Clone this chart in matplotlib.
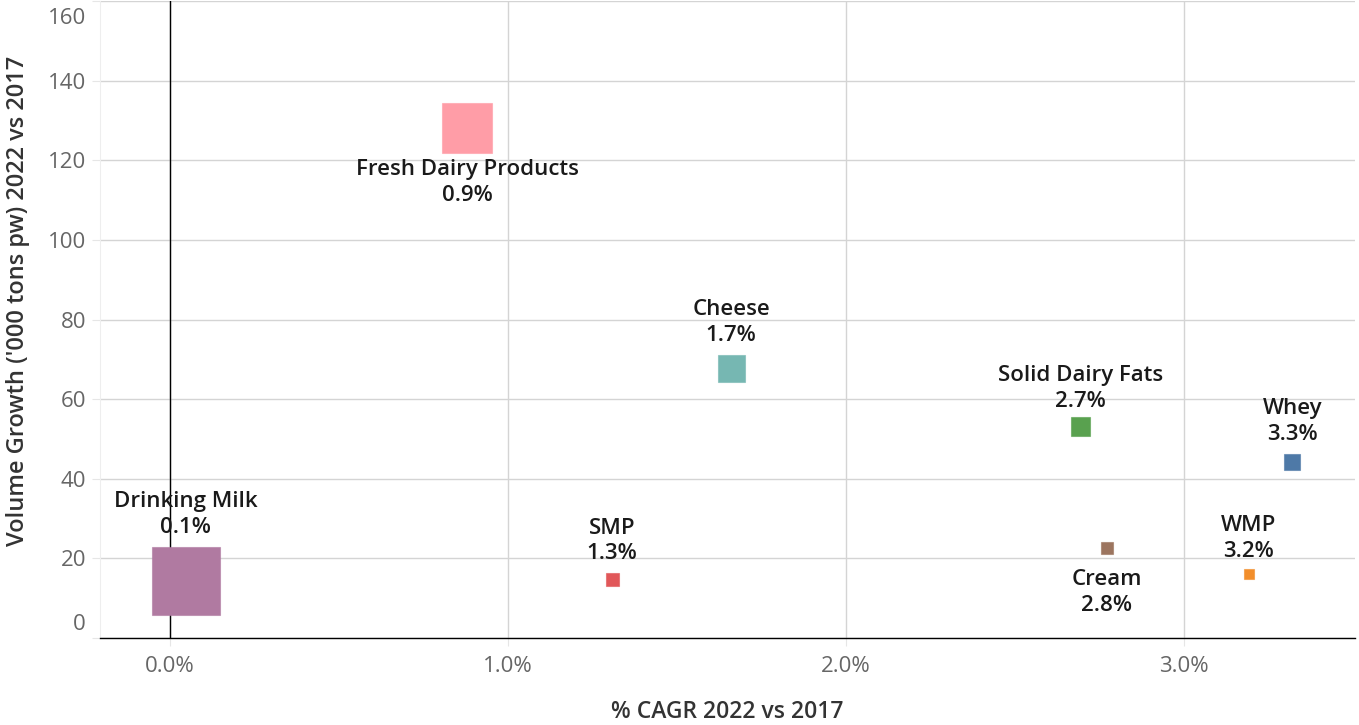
import matplotlib
matplotlib.use('Agg')
import matplotlib.pyplot as plt
import matplotlib.transforms as mtransforms
from matplotlib.ticker import FixedLocator, FuncFormatter

# ---- data ----
categories = ['Drinking Milk', 'Fresh Dairy Products', 'Cheese', 'SMP',
              'Solid Dairy Fats', 'Whey', 'Cream', 'WMP']
cagr = [0.046, 0.879, 1.660, 1.308, 2.693, 3.320, 2.772, 3.192]      # % CAGR
volume = [14.3, 128.1, 67.8, 14.6, 53.1, 44.2, 22.6, 16.2]           # '000 tons
cagr_labels = ['0.1%', '0.9%', '1.7%', '1.3%', '2.7%', '3.3%', '2.8%', '3.2%']
size_measure = [68, 50, 27, 13, 19, 16, 12, 10]                      # size encoding
x_ticks = [0, 1, 2, 3]
y_ticks = [0, 20, 40, 60, 80, 100, 120, 140, 160]

# ---- style ----
colors = ['#b07aa1', '#ff9da7', '#76b7b2', '#e15759',
          '#59a14f', '#4e79a7', '#9c755f', '#f28e2b']
label_below = [False, True, False, False, False, False, True, False]
label_gap_px = [9, 6, 9, 9, 5, 9, 15, 7]

plt.rcParams['font.family'] = ['Open Sans', 'DejaVu Sans']

W, H = 1359, 725
fig = plt.figure(figsize=(W / 100, H / 100), dpi=100)
ax = fig.add_axes([100 / W, 87 / H, 1255 / W, 637 / H])

ax.set_xlim(-0.207, 3.506)
ax.set_ylim(0, 160)

px2pt = 72 / 100
ax.scatter(cagr, volume, s=[(v * px2pt) ** 2 for v in size_measure],
           c=colors, marker='s', linewidths=0.8,
           edgecolors=[c + '99' for c in colors], zorder=3)

for name, x, y, lab, sz, below, gap in zip(categories, cagr, volume, cagr_labels,
                                           size_measure, label_below, label_gap_px):
    off = (sz / 2 + gap) * px2pt
    ax.annotate(f"{name}\n{lab}", xy=(x, y),
                xytext=(0, -off if below else off), textcoords='offset points',
                ha='center', va='top' if below else 'bottom',
                fontsize=16, fontweight='semibold', color='#1a1a1a',
                linespacing=1.3, zorder=4)

# grid
ax.xaxis.set_major_locator(FixedLocator(x_ticks))
ax.yaxis.set_major_locator(FixedLocator(y_ticks))
ax.grid(True, color='#d4d4d4', linewidth=1.0, zorder=0)
ax.axvline(0, color='#000000', linewidth=1.0, zorder=1)
ax.set_axisbelow(True)

for s in ['top', 'right']:
    ax.spines[s].set_visible(False)
ax.spines['left'].set_color('#eeeeee')
ax.spines['bottom'].set_color('#000000')
ax.spines['bottom'].set_linewidth(1.0)

ax.xaxis.set_major_formatter(FuncFormatter(lambda v, p: f"{v:.1f}%"))
ax.yaxis.set_major_formatter(FuncFormatter(lambda v, p: f"{int(v)}"))
ax.tick_params(axis='both', colors='#e6e6e6', labelcolor='#666666',
               labelsize=16, length=6)
ax.tick_params(axis='x', pad=7)
ax.tick_params(axis='y', pad=4)

# shift end labels inward like Tableau
ylabels = ax.get_yticklabels()
ylabels[0].set_verticalalignment('bottom')
ylabels[-1].set_verticalalignment('top')
ylabels[0].set_transform(ylabels[0].get_transform() +
                         mtransforms.ScaledTranslation(0, 3 / 100, fig.dpi_scale_trans))
ylabels[-1].set_transform(ylabels[-1].get_transform() +
                          mtransforms.ScaledTranslation(0, -7 / 100, fig.dpi_scale_trans))

ax.set_xlabel('% CAGR 2022 vs 2017', fontsize=16.5, fontweight='semibold',
              color='#333333')
ax.xaxis.set_label_coords(0.5, -0.097)
ax.set_ylabel("Volume Growth ('000 tons pw) 2022 vs 2017", fontsize=17,
              fontweight='semibold', color='#333333')
ax.yaxis.set_label_coords(-0.056, 0.53)

fig.savefig('out.png', dpi=100, facecolor='white')
